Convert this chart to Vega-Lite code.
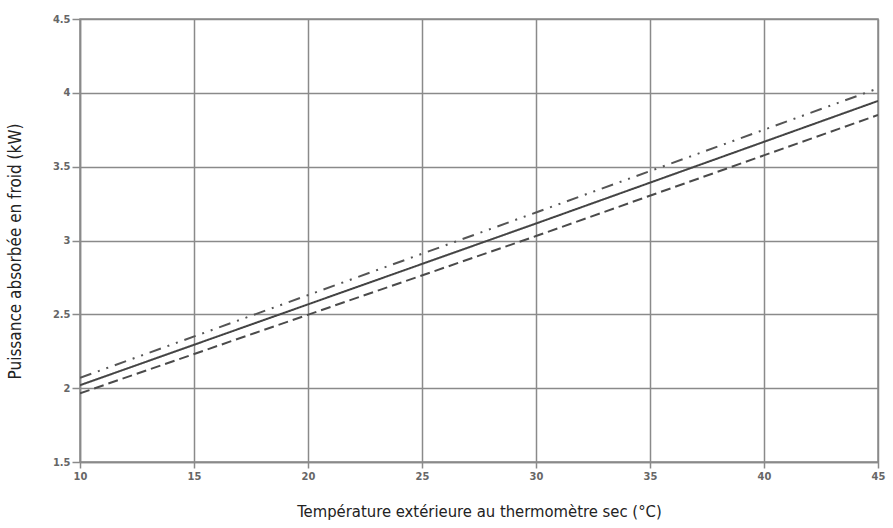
{
  "$schema": "https://vega.github.io/schema/vega-lite/v6.json",
  "width": 798,
  "height": 443,
  "autosize": {"type": "none"},
  "padding": {"left": 80, "top": 19, "right": 15, "bottom": 66},
  "background": "white",
  "config": {
    "view": {"stroke": "#8a8a8a", "strokeWidth": 1.5},
    "font": "DejaVu Sans Condensed, DejaVu Sans"
  },
  "data": {
    "values": [
      {"t": 10, "p": 2.02, "s": "A"},
      {"t": 30, "p": 3.115, "s": "A"},
      {"t": 45, "p": 3.945, "s": "A"},
      {"t": 10, "p": 1.965, "s": "B"},
      {"t": 30, "p": 3.03, "s": "B"},
      {"t": 45, "p": 3.85, "s": "B"},
      {"t": 10, "p": 2.07, "s": "C"},
      {"t": 30, "p": 3.19, "s": "C"},
      {"t": 45, "p": 4.03, "s": "C"}
    ]
  },
  "mark": {"type": "line", "strokeWidth": 2, "clip": true},
  "encoding": {
    "x": {
      "field": "t", "type": "quantitative",
      "scale": {"domain": [10, 45], "nice": false, "zero": false},
      "axis": {
        "values": [10, 15, 20, 25, 30, 35, 40, 45],
        "title": "Température extérieure au thermomètre sec (°C)",
        "titleFont": "DejaVu Sans Condensed, DejaVu Sans", "titleFontSize": 16.5, "titleFontWeight": "normal", "titleColor": "#222",
        "titlePadding": 22,
        "labelFont": "DejaVu Sans Condensed, DejaVu Sans", "labelFontSize": 11, "labelColor": "#666", "labelFontWeight": "bold",
        "grid": true, "gridColor": "#8a8a8a", "gridWidth": 1.5,
        "domainColor": "#8a8a8a", "domainWidth": 1.5,
        "tickColor": "#8a8a8a", "tickWidth": 1.5, "tickSize": 6,
        "labelPadding": 2, "labelFlush": false
      }
    },
    "y": {
      "field": "p", "type": "quantitative",
      "scale": {"domain": [1.5, 4.5], "nice": false, "zero": false},
      "axis": {
        "values": [1.5, 2, 2.5, 3, 3.5, 4, 4.5],
        "format": "~g",
        "title": "Puissance absorbée en froid (kW)",
        "titleFont": "DejaVu Sans Condensed, DejaVu Sans", "titleFontSize": 17, "titleFontWeight": "normal", "titleColor": "#222",
        "titlePadding": 28,
        "titleY": 232,
        "labelFont": "DejaVu Sans Condensed, DejaVu Sans", "labelFontSize": 11, "labelColor": "#666", "labelFontWeight": "bold",
        "grid": true, "gridColor": "#8a8a8a", "gridWidth": 1.5,
        "domainColor": "#8a8a8a", "domainWidth": 1.5,
        "tickColor": "#8a8a8a", "tickWidth": 1.5, "tickSize": 8,
        "labelPadding": 2, "labelFlush": false
      }
    },
    "color": {
      "field": "s", "type": "nominal",
      "scale": {"domain": ["A", "B", "C"], "range": ["#444444", "#4a4a4a", "#555555"]},
      "legend": null
    },
    "strokeDash": {
      "field": "s", "type": "nominal",
      "scale": {"domain": ["A", "B", "C"], "range": [[1, 0], [10, 5], [12, 7, 2, 7, 2, 7]]},
      "legend": null
    }
  }
}
